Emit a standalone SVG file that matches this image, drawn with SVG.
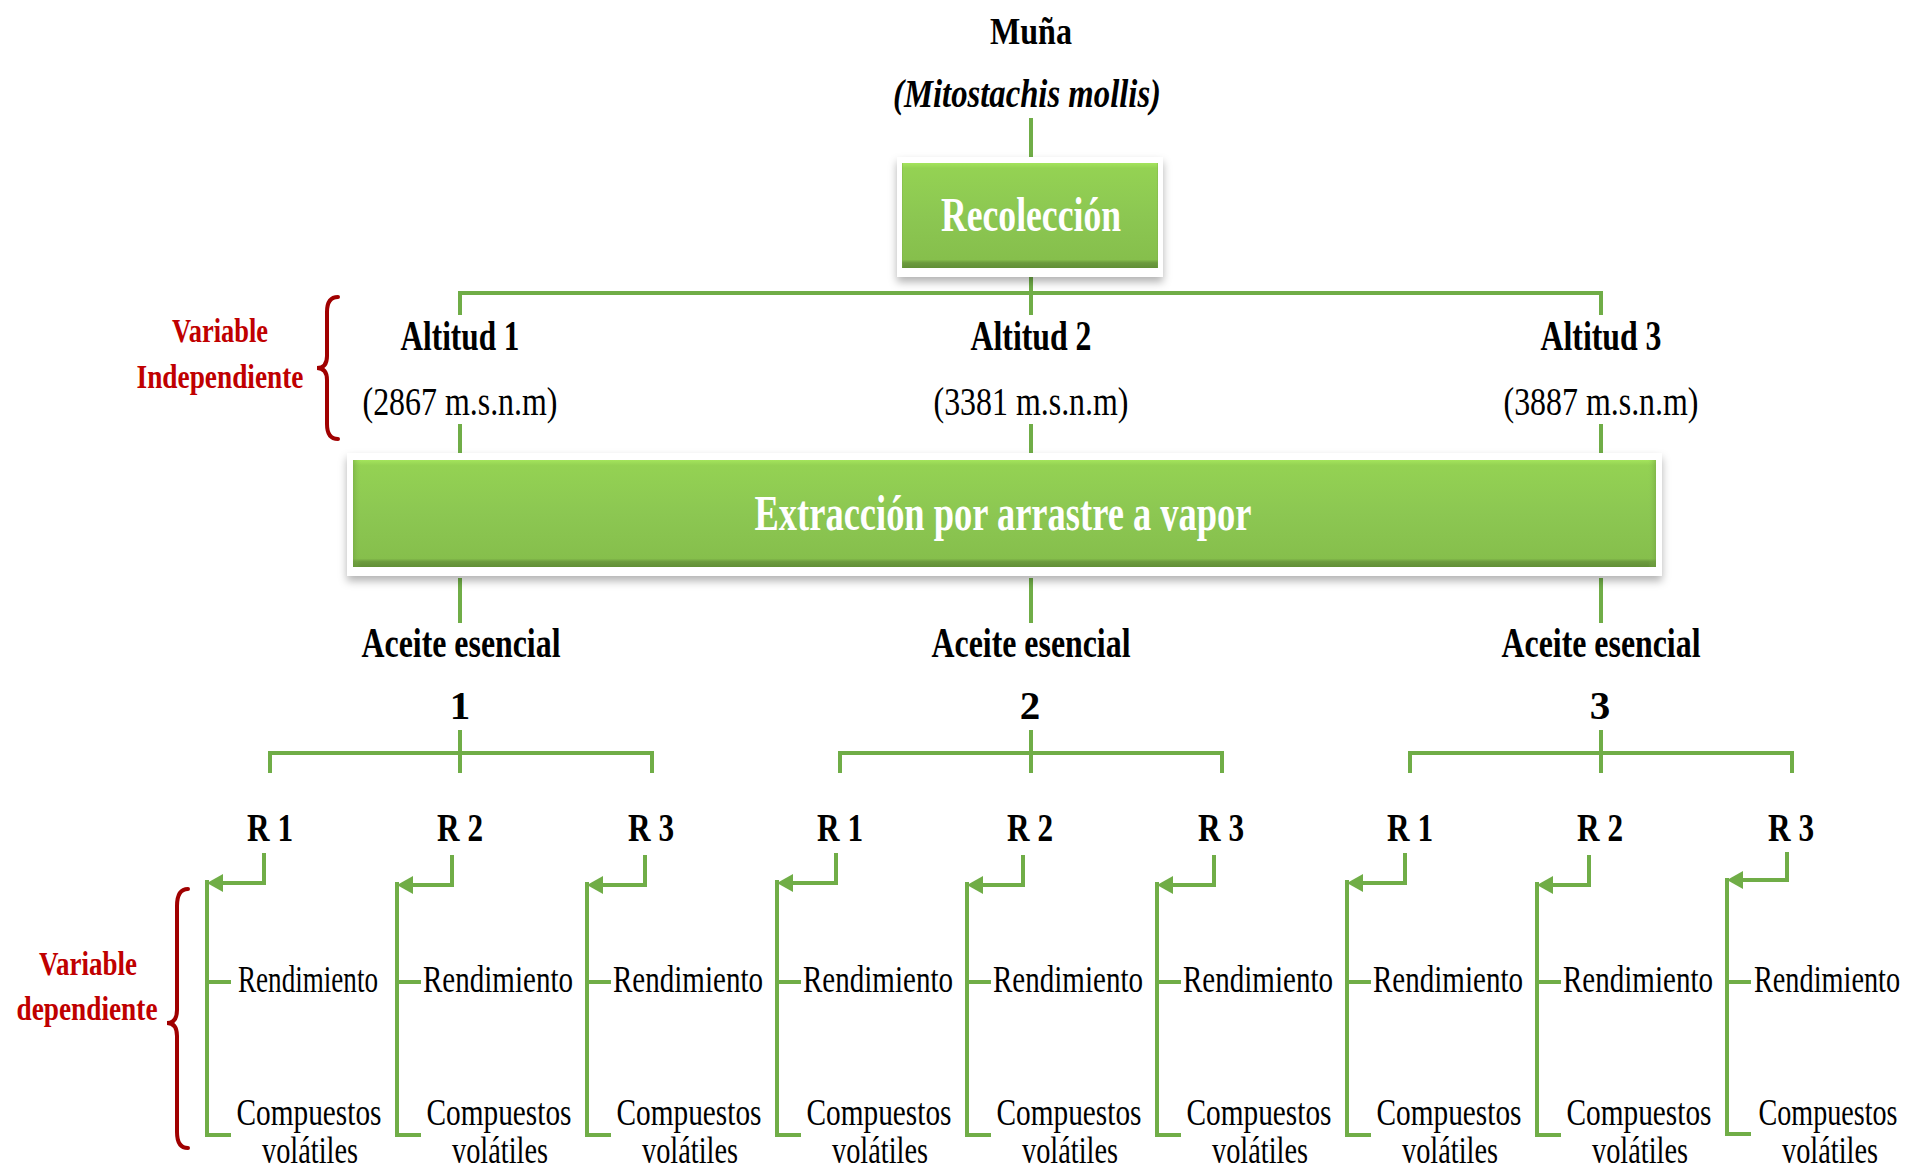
<svg xmlns="http://www.w3.org/2000/svg" width="1910" height="1170" viewBox="0 0 1910 1170">
<defs>
<style>
.ln{fill:none;stroke:#70AD47;stroke-width:4;stroke-linejoin:miter}
.br{fill:none;stroke:#A00000;stroke-width:4;stroke-linecap:round}
.t{font-family:"Liberation Serif","Times New Roman",serif;fill:#000;text-anchor:middle}
.b{font-weight:bold}
.red{fill:#C00000;font-weight:bold;font-size:34px}
.w{fill:#fff;font-weight:bold}
.rl{font-size:41px;font-weight:bold}
.rd{font-size:38px}
</style>
<linearGradient id="gg" x1="0" y1="0" x2="0" y2="1">
<stop offset="0" stop-color="#A4E45C"/>
<stop offset="0.05" stop-color="#94D253"/>
<stop offset="0.5" stop-color="#8CC752"/>
<stop offset="0.92" stop-color="#86BF4C"/>
<stop offset="0.95" stop-color="#6C9B3E"/>
<stop offset="1" stop-color="#618F36"/>
</linearGradient>
<linearGradient id="gs" x1="0" y1="0" x2="1" y2="0">
<stop offset="0" stop-color="#6E9E3F" stop-opacity="0.5"/>
<stop offset="0.006" stop-color="#8CC752" stop-opacity="0"/>
<stop offset="0.994" stop-color="#8CC752" stop-opacity="0"/>
<stop offset="1" stop-color="#6E9E3F" stop-opacity="0.5"/>
</linearGradient>
<filter id="sh" x="-5%" y="-20%" width="110%" height="150%">
<feDropShadow dx="0" dy="5" stdDeviation="4" flood-color="#000" flood-opacity="0.3"/>
</filter>
<marker id="ah" viewBox="0 0 16 18" refX="6" refY="9" markerWidth="16" markerHeight="18" markerUnits="userSpaceOnUse" orient="auto">
<path d="M0,0 L16,9 L0,18 Z" fill="#70AD47"/>
</marker>
</defs>
<rect width="1910" height="1170" fill="#fff"/>

<g id="connectors">
<path class="ln" d="M1031 118 V157"/>
<path class="ln" d="M1031 277 V315 M460 315 V293 H1601 V315"/>
<path class="ln" d="M460 424 V453 M1031 424 V453 M1601 424 V453"/>
<path class="ln" d="M460 578 V623 M1031 578 V623 M1601 578 V623"/>
<path class="ln" d="M460 730 V773 M270 773 V753 H652 V773"/>
<path class="ln" d="M1031 730 V773 M840 773 V753 H1222 V773"/>
<path class="ln" d="M1601 730 V773 M1410 773 V753 H1792 V773"/>
<g marker-end="url(#ah)">
<path class="ln" d="M264 853 V883 H217"/>
<path class="ln" d="M452 855 V885 H407"/>
<path class="ln" d="M645 855 V885 H597"/>
<path class="ln" d="M836 853 V883 H787"/>
<path class="ln" d="M1023 855 V885 H977"/>
<path class="ln" d="M1214 855 V885 H1167"/>
<path class="ln" d="M1405 853 V883 H1357"/>
<path class="ln" d="M1589 855 V885 H1547"/>
<path class="ln" d="M1787 852 V880 H1737"/>
</g>
<path class="ln" d="M207 880 V1135 H231 M207 982 H231"/>
<path class="ln" d="M397 882 V1135 H421 M397 982 H421"/>
<path class="ln" d="M587 882 V1135 H611 M587 982 H611"/>
<path class="ln" d="M777 880 V1135 H801 M777 982 H801"/>
<path class="ln" d="M967 882 V1135 H991 M967 982 H991"/>
<path class="ln" d="M1157 882 V1135 H1181 M1157 982 H1181"/>
<path class="ln" d="M1347 880 V1135 H1371 M1347 982 H1371"/>
<path class="ln" d="M1537 882 V1135 H1561 M1537 982 H1561"/>
<path class="ln" d="M1727 878 V1134 H1751 M1727 982 H1751"/>
</g>

<g id="title">
<text class="t b" x="1031" y="44" font-size="38" textLength="82" lengthAdjust="spacingAndGlyphs">Muña</text>
<text class="t b" x="1027" y="107" font-size="40" font-style="italic" textLength="268" lengthAdjust="spacingAndGlyphs">(Mitostachis mollis)</text>
</g>

<g id="recoleccion">
<rect x="897" y="157" width="266" height="120" fill="#fff" filter="url(#sh)"/>
<rect x="902" y="163" width="256" height="105" fill="url(#gg)"/>
<rect x="902" y="163" width="256" height="105" fill="url(#gs)"/>
<text class="t w" x="1031" y="231" font-size="49" textLength="180" lengthAdjust="spacingAndGlyphs">Recolección</text>
</g>

<g id="var-independiente">
<text class="t red" x="220" y="342" textLength="96" lengthAdjust="spacingAndGlyphs">Variable</text>
<text class="t red" x="220" y="388" textLength="167" lengthAdjust="spacingAndGlyphs">Independiente</text>
<path class="br" d="M338 297 Q327 297 327 312 L327 356 Q327 368 317 368 Q327 368 327 380 L327 424 Q327 439 338 439"/>
</g>

<g id="altitud1">
<text class="t b" x="460" y="350" font-size="42" textLength="119" lengthAdjust="spacingAndGlyphs">Altitud 1</text>
<text class="t" x="460" y="415" font-size="39" textLength="195" lengthAdjust="spacingAndGlyphs">(2867 m.s.n.m)</text>
</g>
<g id="altitud2">
<text class="t b" x="1031" y="350" font-size="42" textLength="121" lengthAdjust="spacingAndGlyphs">Altitud 2</text>
<text class="t" x="1031" y="415" font-size="39" textLength="195" lengthAdjust="spacingAndGlyphs">(3381 m.s.n.m)</text>
</g>
<g id="altitud3">
<text class="t b" x="1601" y="350" font-size="42" textLength="121" lengthAdjust="spacingAndGlyphs">Altitud 3</text>
<text class="t" x="1601" y="415" font-size="39" textLength="195" lengthAdjust="spacingAndGlyphs">(3887 m.s.n.m)</text>
</g>

<g id="extraccion">
<rect x="347" y="453" width="1315" height="123" fill="#fff" filter="url(#sh)"/>
<rect x="353" y="460" width="1303" height="107" fill="url(#gg)"/>
<rect x="353" y="460" width="1303" height="107" fill="url(#gs)"/>
<text class="t w" x="1003" y="530" font-size="51" textLength="497" lengthAdjust="spacingAndGlyphs">Extracción por arrastre a vapor</text>
</g>

<g id="aceite1">
<text class="t b" x="461" y="657" font-size="43" textLength="199" lengthAdjust="spacingAndGlyphs">Aceite esencial</text>
<text class="t b" x="460" y="719" font-size="41">1</text>
</g>
<g id="aceite2">
<text class="t b" x="1031" y="657" font-size="43" textLength="199" lengthAdjust="spacingAndGlyphs">Aceite esencial</text>
<text class="t b" x="1030" y="719" font-size="41">2</text>
</g>
<g id="aceite3">
<text class="t b" x="1601" y="657" font-size="43" textLength="199" lengthAdjust="spacingAndGlyphs">Aceite esencial</text>
<text class="t b" x="1600" y="719" font-size="41">3</text>
</g>

<g id="repeticiones">
<text class="t rl" x="270" y="841" textLength="46" lengthAdjust="spacingAndGlyphs">R 1</text>
<text class="t rl" x="460" y="841" textLength="46" lengthAdjust="spacingAndGlyphs">R 2</text>
<text class="t rl" x="651" y="841" textLength="46" lengthAdjust="spacingAndGlyphs">R 3</text>
<text class="t rl" x="840" y="841" textLength="46" lengthAdjust="spacingAndGlyphs">R 1</text>
<text class="t rl" x="1030" y="841" textLength="46" lengthAdjust="spacingAndGlyphs">R 2</text>
<text class="t rl" x="1221" y="841" textLength="46" lengthAdjust="spacingAndGlyphs">R 3</text>
<text class="t rl" x="1410" y="841" textLength="46" lengthAdjust="spacingAndGlyphs">R 1</text>
<text class="t rl" x="1600" y="841" textLength="46" lengthAdjust="spacingAndGlyphs">R 2</text>
<text class="t rl" x="1791" y="841" textLength="46" lengthAdjust="spacingAndGlyphs">R 3</text>
</g>

<g id="var-dependiente">
<text class="t red" x="88" y="975" textLength="98" lengthAdjust="spacingAndGlyphs">Variable</text>
<text class="t red" x="87" y="1020" textLength="141" lengthAdjust="spacingAndGlyphs">dependiente</text>
<path class="br" d="M188 889 Q177 889 177 906 L177 1010 Q177 1023 167 1023 Q177 1023 177 1036 L177 1132 Q177 1148 188 1148"/>
</g>

<g id="resultados">
<g class="t rd">
<text x="308" y="992" textLength="140" lengthAdjust="spacingAndGlyphs">Rendimiento</text>
<text x="498" y="992" textLength="150" lengthAdjust="spacingAndGlyphs">Rendimiento</text>
<text x="688" y="992" textLength="150" lengthAdjust="spacingAndGlyphs">Rendimiento</text>
<text x="878" y="992" textLength="150" lengthAdjust="spacingAndGlyphs">Rendimiento</text>
<text x="1068" y="992" textLength="150" lengthAdjust="spacingAndGlyphs">Rendimiento</text>
<text x="1258" y="992" textLength="150" lengthAdjust="spacingAndGlyphs">Rendimiento</text>
<text x="1448" y="992" textLength="150" lengthAdjust="spacingAndGlyphs">Rendimiento</text>
<text x="1638" y="992" textLength="150" lengthAdjust="spacingAndGlyphs">Rendimiento</text>
<text transform="translate(1827 992) scale(0.745 1)" x="0" y="0">Rendimiento</text>
</g>
<g class="t rd">
<text x="309" y="1125" textLength="145" lengthAdjust="spacingAndGlyphs">Compuestos</text>
<text x="499" y="1125" textLength="145" lengthAdjust="spacingAndGlyphs">Compuestos</text>
<text x="689" y="1125" textLength="145" lengthAdjust="spacingAndGlyphs">Compuestos</text>
<text x="879" y="1125" textLength="145" lengthAdjust="spacingAndGlyphs">Compuestos</text>
<text x="1069" y="1125" textLength="145" lengthAdjust="spacingAndGlyphs">Compuestos</text>
<text x="1259" y="1125" textLength="145" lengthAdjust="spacingAndGlyphs">Compuestos</text>
<text x="1449" y="1125" textLength="145" lengthAdjust="spacingAndGlyphs">Compuestos</text>
<text x="1639" y="1125" textLength="145" lengthAdjust="spacingAndGlyphs">Compuestos</text>
<text transform="translate(1828 1125) scale(0.74 1)" x="0" y="0">Compuestos</text>
</g>
<g class="t rd">
<text x="310" y="1163" textLength="96" lengthAdjust="spacingAndGlyphs">volátiles</text>
<text x="500" y="1163" textLength="96" lengthAdjust="spacingAndGlyphs">volátiles</text>
<text x="690" y="1163" textLength="96" lengthAdjust="spacingAndGlyphs">volátiles</text>
<text x="880" y="1163" textLength="96" lengthAdjust="spacingAndGlyphs">volátiles</text>
<text x="1070" y="1163" textLength="96" lengthAdjust="spacingAndGlyphs">volátiles</text>
<text x="1260" y="1163" textLength="96" lengthAdjust="spacingAndGlyphs">volátiles</text>
<text x="1450" y="1163" textLength="96" lengthAdjust="spacingAndGlyphs">volátiles</text>
<text x="1640" y="1163" textLength="96" lengthAdjust="spacingAndGlyphs">volátiles</text>
<text x="1830" y="1163" textLength="96" lengthAdjust="spacingAndGlyphs">volátiles</text>
</g>
</g>
</svg>
